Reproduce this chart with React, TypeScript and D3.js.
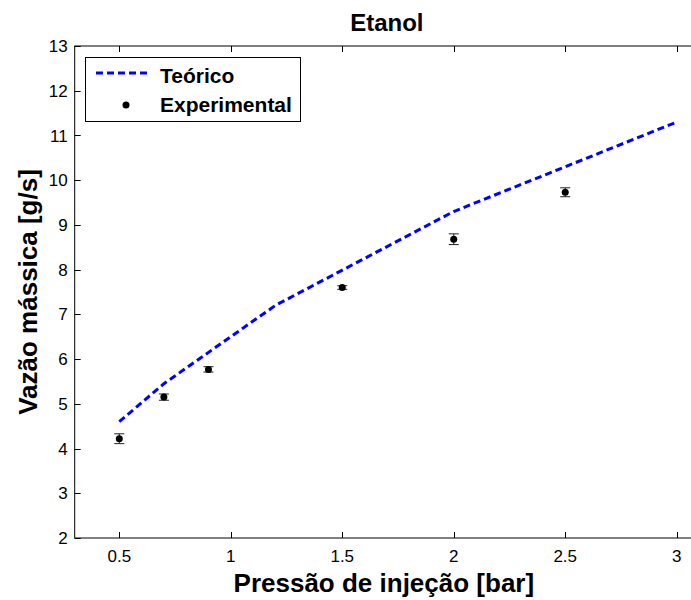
import { useEffect, useRef } from 'react'
import * as d3 from 'd3'

// Theoretical curve (dashed blue)
const theoX = [0.5, 0.7, 1.2, 2.0, 3.0]
const theoY = [4.6, 5.45, 7.2, 9.3, 11.3]

// Experimental points with error bars
const expX = [0.5, 0.7, 0.9, 1.5, 2.0, 2.5]
const expY = [4.22, 5.15, 5.77, 7.6, 8.68, 9.73]
const expErr = [0.11, 0.07, 0.06, 0.04, 0.12, 0.1]

const xTicks = [0.5, 1, 1.5, 2, 2.5, 3]
const yTicks = [2, 3, 4, 5, 6, 7, 8, 9, 10, 11, 12, 13]

const W = 691
const H = 600
const FONT = 'Liberation Sans, Arial, sans-serif'

export default function App() {
  const svgRef = useRef<SVGSVGElement>(null)

  useEffect(() => {
    if (!svgRef.current) return
    const svg = d3.select(svgRef.current)
    svg.selectAll('*').remove()

    const left = 74.7
    const right = 699
    const top = 46
    const bottom = 538

    const x = d3.scaleLinear().domain([0.3, 3.1]).range([left, right])
    const y = d3.scaleLinear().domain([2, 13]).range([bottom, top])

    svg.append('rect').attr('width', W).attr('height', H).attr('fill', 'white')

    // Axes box
    svg.append('rect')
      .attr('x', left).attr('y', top)
      .attr('width', right - left).attr('height', bottom - top)
      .attr('fill', 'none').attr('stroke', 'black').attr('stroke-width', 1)

    const tl = 6
    // x ticks (bottom and top, inward)
    xTicks.forEach(t => {
      const px = Math.round(x(t)) + 0.5
      svg.append('line').attr('x1', px).attr('x2', px).attr('y1', bottom).attr('y2', bottom - tl)
        .attr('stroke', 'black')
      svg.append('line').attr('x1', px).attr('x2', px).attr('y1', top).attr('y2', top + tl)
        .attr('stroke', 'black')
      svg.append('text')
        .attr('x', x(t)).attr('y', 562)
        .attr('text-anchor', 'middle')
        .style('font-family', FONT).style('font-size', '17px')
        .text(d3.format('')(t))
    })

    // y ticks (left, inward)
    yTicks.forEach(t => {
      const py = Math.round(y(t)) + 0.5
      svg.append('line').attr('x1', left).attr('x2', left + tl).attr('y1', py).attr('y2', py)
        .attr('stroke', 'black')
      svg.append('line').attr('x1', right).attr('x2', right - tl).attr('y1', py).attr('y2', py)
        .attr('stroke', 'black')
      svg.append('text')
        .attr('x', left - 7).attr('y', y(t)).attr('dy', '0.36em')
        .attr('text-anchor', 'end')
        .style('font-family', FONT).style('font-size', '17px')
        .text(t)
    })

    // Theoretical line
    const theo = theoX.map((v, i) => [v, theoY[i]] as [number, number])
    const line = d3.line<[number, number]>().x(d => x(d[0])).y(d => y(d[1]))
    svg.append('path')
      .datum(theo)
      .attr('d', line)
      .attr('fill', 'none')
      .attr('stroke', '#0000ff')
      .attr('stroke-width', 3)
      .attr('stroke-dasharray', '7,4')

    // Experimental points with error bars
    const cap = 5
    expX.forEach((v, i) => {
      const cx = x(v)
      const y0 = y(expY[i] - expErr[i])
      const y1 = y(expY[i] + expErr[i])
      svg.append('line').attr('x1', cx).attr('x2', cx).attr('y1', y0).attr('y2', y1)
        .attr('stroke', '#222').attr('stroke-width', 1)
      svg.append('line').attr('x1', cx - cap).attr('x2', cx + cap).attr('y1', y0).attr('y2', y0)
        .attr('stroke', '#222').attr('stroke-width', 1)
      svg.append('line').attr('x1', cx - cap).attr('x2', cx + cap).attr('y1', y1).attr('y2', y1)
        .attr('stroke', '#222').attr('stroke-width', 1)
      svg.append('circle').attr('cx', cx).attr('cy', y(expY[i])).attr('r', 3.5).attr('fill', 'black')
    })

    // Title
    svg.append('text')
      .attr('x', (left + right) / 2).attr('y', 31)
      .attr('text-anchor', 'middle')
      .style('font-family', FONT).style('font-size', '24px').style('font-weight', 'bold')
      .text('Etanol')

    // Axis labels
    svg.append('text')
      .attr('x', (left + right) / 2 - 3).attr('y', 592)
      .attr('text-anchor', 'middle')
      .style('font-family', FONT).style('font-size', '26px').style('font-weight', 'bold')
      .text('Pressão de injeção [bar]')

    svg.append('text')
      .attr('transform', `translate(37,${(top + bottom) / 2}) rotate(-90)`)
      .attr('text-anchor', 'middle')
      .style('font-family', FONT).style('font-size', '26px').style('font-weight', 'bold')
      .text('Vazão mássica [g/s]')

    // Legend
    const lg = svg.append('g')
    lg.append('rect')
      .attr('x', 85.5).attr('y', 57.5).attr('width', 215).attr('height', 64)
      .attr('fill', 'white').attr('stroke', 'black').attr('stroke-width', 1)
    lg.append('line')
      .attr('x1', 96).attr('x2', 151).attr('y1', 73).attr('y2', 73)
      .attr('stroke', '#0000ff').attr('stroke-width', 3).attr('stroke-dasharray', '7,4')
    lg.append('text')
      .attr('x', 160).attr('y', 83)
      .style('font-family', FONT).style('font-size', '21px').style('font-weight', 'bold')
      .text('Teórico')
    lg.append('circle').attr('cx', 126).attr('cy', 105).attr('r', 3.5).attr('fill', 'black')
    lg.append('text')
      .attr('x', 160).attr('y', 112)
      .style('font-family', FONT).style('font-size', '21px').style('font-weight', 'bold')
      .text('Experimental')
  }, [])

  return (
    <svg
      ref={svgRef}
      width={W}
      height={H}
      style={{ position: 'absolute', left: 0, top: 0, display: 'block' }}
    />
  )
}
